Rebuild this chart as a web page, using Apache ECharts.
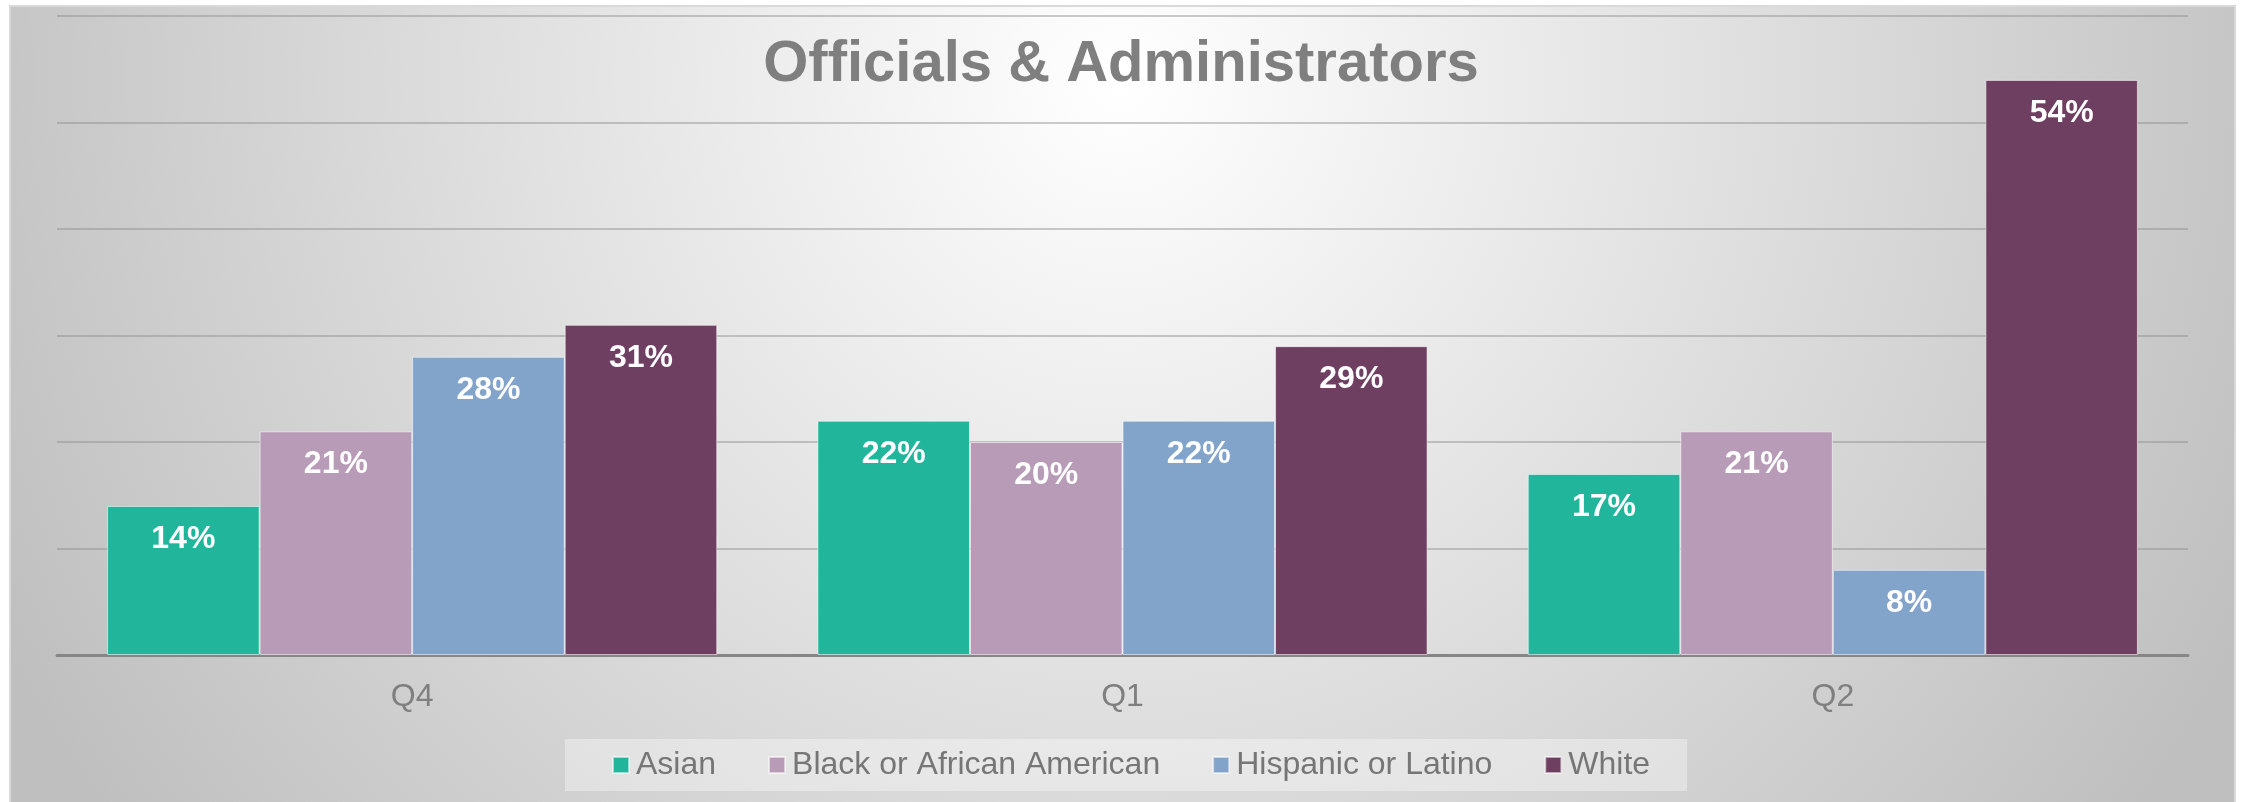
<!DOCTYPE html>
<html>
<head>
<meta charset="utf-8">
<title>Officials &amp; Administrators</title>
<script src="https://cdn.jsdelivr.net/npm/echarts@6/dist/echarts.min.js"></script>
<style>
  html, body { margin: 0; padding: 0; background: #ffffff; }
  #chart { width: 2242px; height: 802px; }
</style>
</head>
<body>
<div id="chart"></div>
<script>
// Quarters on the category axis
const categories = ['Q4', 'Q1', 'Q2'];

// Share of officials & administrators by group (percent)
const asian = [14, 22, 17];
const blackOrAfricanAmerican = [21, 20, 21];
const hispanicOrLatino = [28, 22, 8];
const white = [31, 29, 54];

const seriesNames = ['Asian', 'Black or African American', 'Hispanic or Latino', 'White'];
const seriesColors = ['#21B69B', '#B89BB7', '#82A3CA', '#6F3F62'];
const seriesValues = [asian, blackOrAfricanAmerican, hispanicOrLatino, white];

const FONT = "'Liberation Sans', Arial, sans-serif";

const chart = echarts.init(document.getElementById('chart'), null, { renderer: 'canvas' });

const series = seriesNames.map((name, i) => ({
  name: name,
  type: 'bar',
  data: seriesValues[i],
  barGap: '0%',
  barCategoryGap: '14.1%',
  itemStyle: {
    color: seriesColors[i],
    borderColor: 'rgba(255,255,255,0.55)',
    borderWidth: 1
  },
  label: {
    show: true,
    position: 'insideTop',
    distance: 17,
    formatter: '{c}%',
    color: '#ffffff',
    fontFamily: FONT,
    fontWeight: 'bold',
    fontSize: 32,
    lineHeight: 32
  },
  emphasis: { disabled: true }
}));

chart.setOption({
  animation: false,
  backgroundColor: '#ffffff',
  graphic: [{
    type: 'rect',
    z: -100,
    silent: true,
    shape: { x: 10, y: 6, width: 2225, height: 800 },
    style: {
      fill: {
        type: 'radial',
        x: 1120, y: 80, r: 1250,
        global: true,
        colorStops: [
          { offset: 0, color: '#ffffff' },
          { offset: 1, color: '#bfbfbf' }
        ]
      },
      stroke: '#d9d9d9',
      lineWidth: 2
    }
  }],
  title: {
    text: 'Officials & Administrators',
    left: 'center',
    top: 36,
    padding: 0,
    textStyle: {
      fontFamily: FONT,
      fontWeight: 'bold',
      fontSize: 58,
      lineHeight: 58,
      color: '#7f7f7f'
    }
  },
  legend: {
    data: seriesNames,
    left: 565,
    top: 739,
    itemWidth: 16,
    itemHeight: 16,
    itemGap: 52,
    icon: 'rect',
    backgroundColor: 'rgba(255,255,255,0.35)',
    padding: [10, 37, 10, 47],
    textStyle: {
      fontFamily: FONT,
      fontSize: 32,
      lineHeight: 32,
      color: '#767676',
      padding: [0, 0, 0, 2]
    },
    selectedMode: false
  },
  grid: {
    left: 57,
    right: 54,
    top: 16,
    bottom: 147,
    containLabel: false
  },
  xAxis: {
    type: 'category',
    data: categories,
    axisTick: { show: false },
    axisLine: { show: true, lineStyle: { color: '#868686', width: 3 } },
    axisLabel: {
      margin: 26,
      fontFamily: FONT,
      fontSize: 32,
      color: '#7f7f7f'
    }
  },
  yAxis: {
    type: 'value',
    min: 0,
    max: 60,
    interval: 10,
    axisLabel: { show: false },
    axisLine: { show: false },
    axisTick: { show: false },
    splitLine: { show: true, lineStyle: { color: 'rgba(140,140,140,0.45)', width: 2 } }
  },
  series: series
});
</script>
</body>
</html>
